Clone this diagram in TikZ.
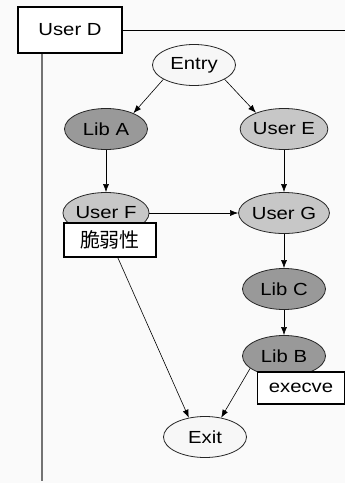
\documentclass[tikz,border=0pt]{standalone}
\usepackage{fontspec}
\setmainfont{Liberation Sans}[FakeStretch=1.16]
\newfontfamily\cjk{Noto Sans CJK SC}
\usepackage{tikz}
\usetikzlibrary{positioning}
\usetikzlibrary{calc}
\usetikzlibrary{shapes}
\usetikzlibrary{arrows.meta}
\tikzset{>={Latex[length=8pt,width=6pt]}}
\tikzset{proc/.style={ellipse, draw=black!85, line width=0.8pt, minimum width=83pt, minimum height=41pt, inner sep=0pt, font=\fontsize{17.5}{19}\selectfont}}
\tikzset{lib/.style={proc, fill=black!40}}
\tikzset{user/.style={proc, fill=black!22}}
\tikzset{term/.style={proc, fill=black!3}}
\tikzset{tag/.style={rectangle, draw, line width=1.5pt, fill=white, inner sep=0pt, font=\fontsize{17.5}{19}\selectfont}}
\tikzset{flow/.style={->, line width=0.6pt}}

\begin{document}
\begin{tikzpicture}[x=1pt, y=-1pt]
    \useasboundingbox[fill=black!2] (0,0) rectangle (345,483);

    % owner of the call graph and its lifeline
    \node [tag, minimum width=104pt, minimum height=46pt] (userD) at (70,30) {User D};
    \coordinate (rightEnd) at (345,30);
    \coordinate (lifeEnd) at (42,481);
    \draw [line width=0.6pt] (userD.east) -- (rightEnd);
    \draw [black!55, line width=1.3pt] (userD.south west -| lifeEnd) -- (lifeEnd);

    \node [term] (entry) at (194,65) {Entry};
    \node [lib] (libA) at ($(entry) + (-88,64)$) {Lib A};
    \node [user] (userE) at ($(entry) + (90,64)$) {User E};

    \node [user] (userF) at ($(libA) + (0,84)$) {User F};
    \node [user] (userG) at ($(userE) + (0,84)$) {User G};
    \node [lib] (libC) at ($(userG) + (0,76)$) {Lib C};
    \node [lib] (libB) at ($(libC) + (0,67)$) {Lib B};

    \node [term] (exit) at (205,437) {Exit};

    % labels sitting on the nodes
    \node [tag, minimum width=92pt, minimum height=34pt, font=\cjk\fontsize{20}{21}\selectfont] (vuln) at ($(userF) + (4,27)$) {脆弱性};
    \node [tag, minimum width=87pt, minimum height=32pt] (execve) at ($(libB) + (17,32)$) {execve};

    \draw [flow] (entry.205) -- (libA.30);
    \draw [flow] (entry.335) -- (userE.150);
    \draw [flow] (libA) -- (userF);
    \draw [flow] (userE) -- (userG);
    \draw [flow] (userF) -- (userG);
    \draw [flow] (userG) -- (libC);
    \draw [flow] (libC) -- (libB);
    \draw [flow] (vuln) -- (exit.130);
    \draw [flow] (libB.200) -- (exit.50);

\end{tikzpicture}
\end{document}
